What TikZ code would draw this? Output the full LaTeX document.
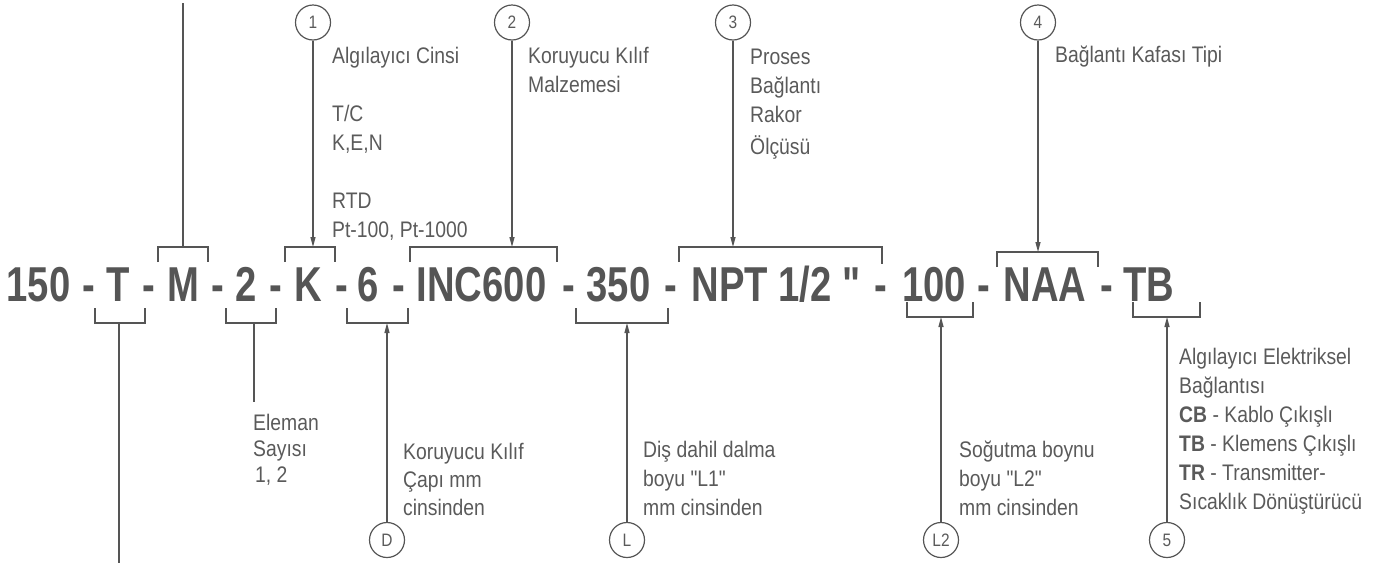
\documentclass[tikz,border=0pt]{standalone}
\usepackage{fontspec}
\setmainfont{Liberation Sans}[FakeStretch=0.86, Ligatures=TeXOff]
\newfontfamily\codefont{Liberation Sans}[FakeStretch=0.78, Ligatures=TeXOff]
\usetikzlibrary{arrows.meta}
\definecolor{ink}{HTML}{555555}
\definecolor{txt}{HTML}{5A5A5A}
\tikzset{
 code/.style={anchor=base, inner sep=0pt, text=ink, font=\codefont\bfseries\fontsize{49}{55}\selectfont},
 lbl/.style={anchor=base west, inner sep=0pt, align=left, text=txt, font=\fontsize{22.5}{29}\selectfont},
 tag/.style={circle, draw=ink, line width=1.2pt, minimum size=35pt, inner sep=0pt, text=txt, font=\fontsize{18}{18}\selectfont},
 ln/.style={draw=ink, line width=1.3pt},
 arr/.style={ln, -{Triangle[length=10pt,width=5pt]}},
}
\begin{document}
\begin{tikzpicture}[x=1pt,y=-1pt]
\useasboundingbox (0,0) rectangle (1391,563);
% code string
\node[code] (c1) at (38.5,301) {150};
\node[code] (d1) at (89,301) {-};
\node[code] (c2) at (118.5,301) {T};
\node[code] (d2) at (149,301) {-};
\node[code] (c3) at (183,301) {M};
\node[code] (d3) at (217.5,301) {-};
\node[code] (c4) at (246.5,301) {2};
\node[code] (d4) at (276,301) {-};
\node[code] (c5) at (308.5,301) {K};
\node[code] (d5) at (342,301) {-};
\node[code] (c6) at (368,301) {6};
\node[code] (d6) at (398.5,301) {-};
\node[code] (c7) at (481.5,301) {INC600};
\node[code] (d7) at (569,301) {-};
\node[code] (c8) at (618.5,301) {350};
\node[code] (d8) at (671,301) {-};
\node[code] (c9) at (776,301) {NPT 1/2 "};
\node[code] (d9) at (881,301) {-};
\node[code] (c10) at (934,301) {100};
\node[code] (d10) at (984,301) {-};
\node[code] (c11) at (1045,301) {NAA};
\node[code] (d11) at (1106.5,301) {-};
\node[code] (c12) at (1149,301) {TB};
% top brackets
\draw[ln] (158,262) -- (158,247) -- (208,247) -- (208,262);
\draw[ln] (285,262) -- (285,247) -- (335,247) -- (335,262);
\draw[ln] (410,262) -- (410,247) -- (557,247) -- (557,262);
\draw[ln] (679,262) -- (679,247) -- (882,247) -- (882,264);
\draw[ln] (997,267) -- (997,252) -- (1098,252) -- (1098,267);
% bottom brackets
\draw[ln] (95,308) -- (95,323) -- (145,323) -- (145,308);
\draw[ln] (226,308) -- (226,323) -- (276,323) -- (276,308);
\draw[ln] (347,308) -- (347,323) -- (408,323) -- (408,308);
\draw[ln] (576,308) -- (576,323) -- (668,323) -- (668,308);
\draw[ln] (907,302) -- (907,317) -- (973,317) -- (973,302);
\draw[ln] (1133,302) -- (1133,317) -- (1200,317) -- (1200,302);
% bracket anchor coordinates
\coordinate (mTop) at (183,3);
\coordinate (mB) at (183,247);
\coordinate (kB) at (313,247);
\coordinate (iB) at (512,247);
\coordinate (nB) at (733,247);
\coordinate (aB) at (1038,252);
\coordinate (tB) at (119,323);
\coordinate (tEnd) at (119,563);
\coordinate (twoB) at (254,323);
\coordinate (twoEnd) at (254,402);
\coordinate (sixB) at (387,323);
\coordinate (lB) at (627,323);
\coordinate (hB) at (941,317);
\coordinate (tbB) at (1167,317);
% circles
\node[tag] (n1) at (313,22.5) {1};
\node[tag] (n2) at (512,22.5) {2};
\node[tag] (n3) at (733,22.5) {3};
\node[tag] (n4) at (1038,22.5) {4};
\node[tag] (nD) at (387,540) {D};
\node[tag] (nL) at (627,540) {L};
\node[tag] (nL2) at (941,540) {L2};
\node[tag] (n5) at (1167,540) {5};
% connectors
\draw[ln] (mTop) -- (mB);
\draw[ln] (tB) -- (tEnd);
\draw[ln] (twoB) -- (twoEnd);
\draw[arr] (n1) -- (kB);
\draw[arr] (n2) -- (iB);
\draw[arr] (n3) -- (nB);
\draw[arr] (n4) -- (aB);
\draw[arr] (nD) -- (sixB);
\draw[arr] (nL) -- (lB);
\draw[arr] (nL2) -- (hB);
\draw[arr] (n5) -- (tbB);
% labels (anchor = baseline of last line)
\node[lbl] (t1) at (332,237) {Algılayıcı Cinsi\\[29pt]T/C\\K,E,N\\[29pt]RTD\\Pt-100, Pt-1000};
\node[lbl] (t2) at (528,92) {Koruyucu Kılıf\\Malzemesi};
\node[lbl] (t3) at (750,154) {Proses\\Bağlantı\\Rakor\\[3pt]Ölçüsü};
\node[lbl] (t4) at (1055,62) {Bağlantı Kafası Tipi};
\node[lbl, font=\fontsize{22.5}{26}\selectfont] (t5) at (253,482) {Eleman\\Sayısı\\\hspace*{2pt}1, 2};
\node[lbl, font=\fontsize{22.5}{28}\selectfont] (t6) at (403,515) {Koruyucu Kılıf\\Çapı mm\\cinsinden};
\node[lbl] (t7) at (643,515) {Diş dahil dalma\\boyu "L1"\\mm cinsinden};
\node[lbl] (t8) at (959,515) {Soğutma boynu\\boyu "L2"\\mm cinsinden};
\node[lbl] (t9) at (1179,509) {Algılayıcı Elektriksel\\Bağlantısı\\\textbf{CB} - Kablo Çıkışlı\\\textbf{TB} - Klemens Çıkışlı\\\textbf{TR} - Transmitter-\\Sıcaklık Dönüştürücü};
\end{tikzpicture}
\end{document}
